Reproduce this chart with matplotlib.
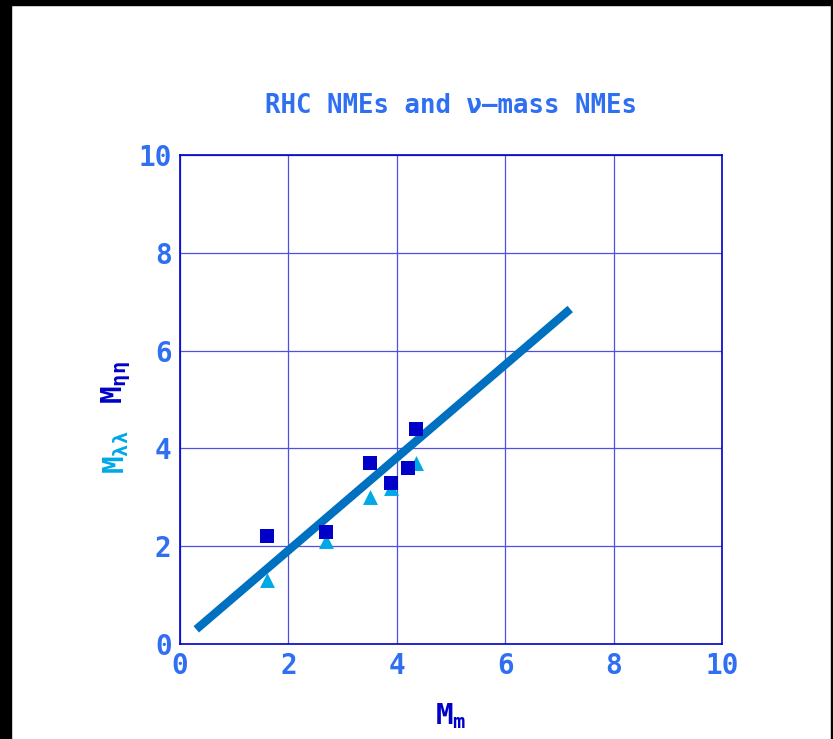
import numpy as np
import matplotlib
matplotlib.use("Agg")
import matplotlib.pyplot as plt
from matplotlib.patches import Rectangle

# values
m_m_sq = [1.6, 2.7, 3.5, 3.9, 4.2, 4.35]
m_eta = [2.2, 2.3, 3.7, 3.3, 3.6, 4.4]
m_m_tri = [1.6, 2.7, 3.5, 3.9, 4.35]
m_lam = [1.3, 2.1, 3.0, 3.2, 3.7]
fit_x = [0.3, 7.2]
fit_y = [0.3, 6.85]
ticks = [0, 2, 4, 6, 8, 10]

W, H = 833, 739
fig = plt.figure(figsize=(W / 100, H / 100), dpi=100)
ax = fig.add_axes([180 / W, 1 - 644 / H, 542 / W, 489 / H])

font = "DejaVu Sans Mono"
tick_c = "#2f6ff2"
dark = "#0000c8"
light = "#00a8e6"

ax.plot(fit_x, fit_y, color="#0070c0", lw=6, solid_capstyle="butt", zorder=3)
ax.scatter(m_m_tri, m_lam, marker="^", s=115, color=light, zorder=4, linewidths=0)
ax.scatter(m_m_sq, m_eta, marker="s", s=90, color=dark, zorder=5, linewidths=0)

ax.set_xlim(0, 10)
ax.set_ylim(0, 10)
ax.set_xticks(ticks)
ax.set_yticks(ticks)
ax.grid(True, color="#5050e0", lw=0.9)
ax.set_axisbelow(True)
for s in ax.spines.values():
    s.set_color(dark)
    s.set_linewidth(1.2)
ax.tick_params(length=0, pad=6, labelcolor=tick_c)
for lab in ax.get_xticklabels() + ax.get_yticklabels():
    lab.set_fontfamily(font)
    lab.set_fontweight("bold")
    lab.set_fontsize(20)

ax.set_title("RHC NMEs and ν–mass NMEs", color=tick_c, fontsize=18.5,
             fontfamily=font, fontweight="bold", pad=30)

fig.text(451 / W, 1 - 716 / H, r"M$_{\mathregular{m}}$", color=dark, fontsize=21,
         fontfamily=font, fontweight="bold", ha="center", va="center")
fig.text(116 / W, 1 - 452 / H, r"M$_{\mathregular{λλ}}$", color=light, fontsize=21,
         fontfamily=font, fontweight="bold", ha="center", va="center", rotation=90)
fig.text(116 / W, 1 - 383 / H, r"M$_{\mathregular{ηη}}$", color=dark, fontsize=21,
         fontfamily=font, fontweight="bold", ha="center", va="center", rotation=90)

# black frame of the original screenshot
for x0, y0, w, h in [(0, 0, 11, H), (0, H - 5, W, 5), (W - 2, 0, 2, H)]:
    fig.patches.append(Rectangle((x0 / W, y0 / H), w / W, h / H, transform=fig.transFigure,
                                 color="black", zorder=10))

fig.savefig("out.png", dpi=100)
